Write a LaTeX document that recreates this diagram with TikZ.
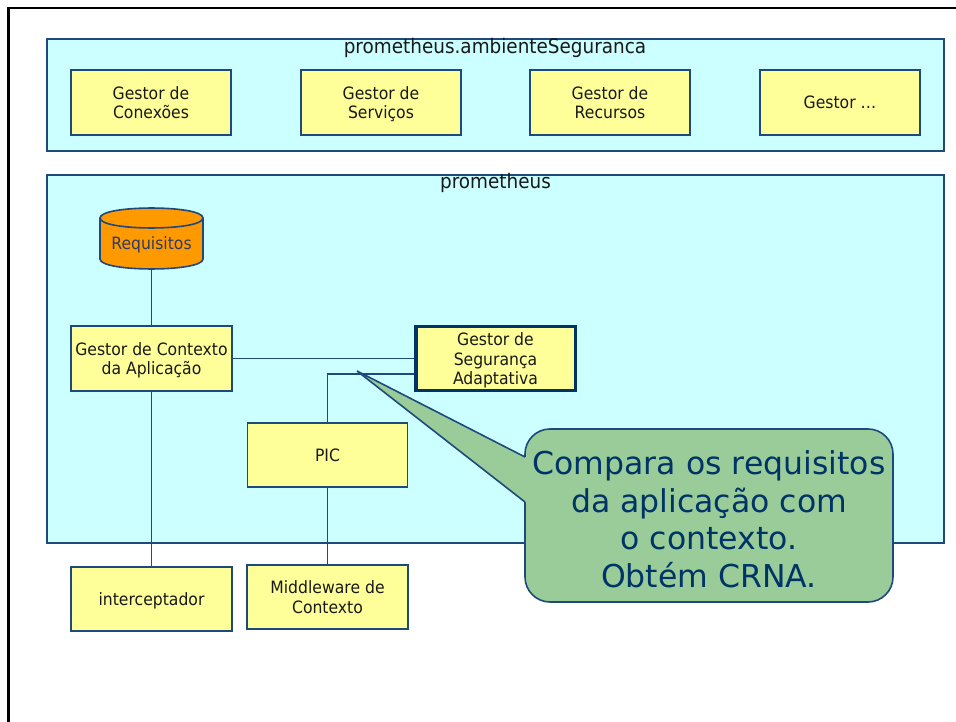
\documentclass[tikz,border=0pt]{standalone}
\usepackage{fontspec}
\setmainfont{DejaVu Sans}[FakeStretch=0.92]
\newfontfamily\callfont{DejaVu Sans}
\newcommand\topstrut{\rule{0pt}{19pt}}
\newcommand\botstrut{\rule[-6pt]{0pt}{6pt}}
\definecolor{navy}{RGB}{31,73,125}
\definecolor{deepnavy}{RGB}{0,51,102}
\definecolor{cyanfill}{HTML}{CCFFFF}
\definecolor{yel}{HTML}{FFFF99}
\definecolor{orng}{HTML}{FF9900}
\definecolor{grn}{HTML}{99CC99}
\definecolor{reqtext}{RGB}{45,60,100}
\definecolor{ink}{RGB}{25,25,25}
\begin{document}
\begin{tikzpicture}[x=1pt,y=-1pt,
  container/.style={draw=navy,line width=1.6pt,fill=cyanfill,inner sep=0pt},
  comp/.style={draw=navy,line width=1.6pt,fill=yel,inner sep=0pt,align=center,text=ink,
    minimum width=160pt,minimum height=64pt,font=\fontsize{17}{19.5}\selectfont},
  title/.style={inner sep=0pt,anchor=base,text=ink,font=\fontsize{20}{24}\selectfont},
  link/.style={draw=navy,line width=1.6pt}]
\useasboundingbox (0,0) rectangle (956,722);
\fill[white] (0,0) rectangle (956,722);
\draw[line width=2.8pt,black] (8.6,722) -- (8.6,8) -- (956,8);

% containers
\node[container,minimum width=897pt,minimum height=112pt] (amb) at (495.5,95) {};
\node[title] (ambt) at (495,54) {prometheus.ambienteSeguranca};
\node[container,minimum width=897pt,minimum height=368pt] (prom) at (495.5,359) {};
\node[title] (promt) at (495.5,188.3) {prometheus};

% top components
\node[comp,minimum height=65pt] (gcon) at (151,102.5) {\topstrut Gestor de\\Conexões\botstrut};
\node[comp,minimum height=65pt] (gser) at (381,102.5) {\topstrut Gestor de\\Serviços\botstrut};
\node[comp,minimum height=65pt] (grec) at (610,102.5) {\topstrut Gestor de\\Recursos\botstrut};
\node[comp,minimum height=65pt] (gdot) at (840,102.5) {\topstrut Gestor \dots\botstrut};

% Requisitos cylinder
\fill[orng,draw=navy,line width=1.6pt] (100,218) -- (100,259)
  .. controls (100,272.3) and (203,272.3) .. (203,259) -- (203,218)
  .. controls (203,204.7) and (100,204.7) .. (100,218) -- cycle;
\draw[navy,line width=1.6pt] (100,218) .. controls (100,231.3) and (203,231.3) .. (203,218);
\node[inner sep=0pt,text=reqtext,font=\fontsize{17}{19.5}\selectfont] (req) at (151.5,245) {Requisitos};
\coordinate (reqb) at (151.5,269);

% prometheus components
\node[comp,minimum width=161pt,minimum height=65pt] (gca) at (151.5,358.5) {\topstrut Gestor de Contexto\\da Aplicação\botstrut};
\node[comp,draw=deepnavy,line width=3.5pt,minimum width=159.5pt,minimum height=63.5pt] (gsa) at (495.5,358.5) {\topstrut Gestor de\\Segurança\\Adaptativa\botstrut};
\coordinate (gsain) at (414,374);
\node[comp] (pic) at (327.5,455) {\topstrut PIC\botstrut};
\node[comp,minimum width=161pt] (mw) at (327.5,597) {\topstrut Middleware de\\Contexto\botstrut};
\node[comp,minimum width=161pt] (icp) at (151.5,599) {\topstrut interceptador\botstrut};

% connectors
\draw[link] (reqb) -- (gca.north);
\draw[link] (gca.east) -- (gsa.west);
\draw[link] (pic.north) |- (gsain);
\draw[link] (gca.south) -- (icp.north);
\draw[link] (pic.south) -- (mw.north);

% callout
\node[draw=navy,line width=1.6pt,fill=grn,rounded corners=25pt,minimum width=368pt,minimum height=173pt,
  inner sep=0pt,align=center,text=deepnavy,font=\callfont\fontsize{31.5}{37.8}\selectfont] (call) at (709,515.5)
  {\rule{0pt}{33pt}Compara os requisitos\\da aplicação com\\o contexto.\\Obtém CRNA.\rule[-2pt]{0pt}{2pt}};
\coordinate (tip) at (357,371);
\fill[grn] (tip) -- (525,457) -- (527.5,457) -- (527.5,502) -- (525,502) -- cycle;
\draw[navy,line width=1.6pt,line join=miter] (525,457) -- (tip) -- (525,502);
\end{tikzpicture}
\end{document}
